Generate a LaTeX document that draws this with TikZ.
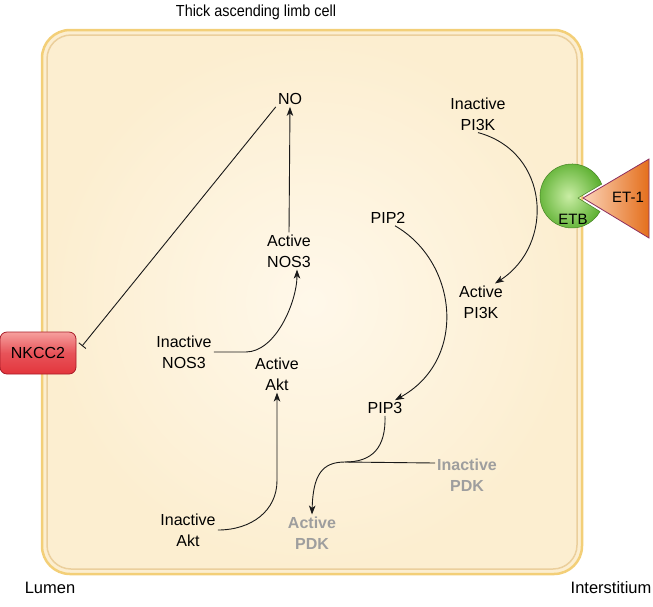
\documentclass[tikz,border=0pt]{standalone}
\usepackage{fontspec}
\setmainfont{Liberation Sans}
\newfontfamily\narrowfont[FakeStretch=0.9]{Liberation Sans}
\usetikzlibrary{arrows, arrows.meta, shapes}

\definecolor{cellfill}{HTML}{FCEED0}
\definecolor{cellcentre}{HTML}{FFF8EA}
\definecolor{cellrim}{HTML}{F3CF78}
\definecolor{cellshade}{HTML}{EBCF9C}
\definecolor{nkccred}{HTML}{E3353C}
\definecolor{nkcclight}{HTML}{F6A09E}
\definecolor{nkccrim}{HTML}{A81C28}
\definecolor{etbgreen}{HTML}{5DB031}
\definecolor{etblight}{HTML}{C9EDA4}
\definecolor{etorange}{HTML}{E46F1C}
\definecolor{etlight}{HTML}{FBD3B8}
\definecolor{etrim}{HTML}{8C2D5E}
\definecolor{pdkgray}{HTML}{9E9E9E}

\begin{document}
\begin{tikzpicture}[-,>={Stealth[length=9pt,width=6.5pt,inset=2.5pt]},x=1pt,y=-1pt,
    lbl/.style={align=center, inner sep=2pt, font=\fontsize{16}{21}\selectfont},
    pdk/.style={lbl, text=pdkgray, font=\fontsize{16}{21}\selectfont\bfseries},
    side/.style={lbl, font=\fontsize{16.5}{19}\selectfont},
    link/.style={line width=0.9pt, draw=black!90}]
        \useasboundingbox (0,0) rectangle (653,606);

        \draw[draw=cellrim, line width=2.5pt, rounded corners=28pt, fill=cellfill] (42,30) rectangle (582,574);
        \shade[inner color=cellcentre, outer color=cellfill, rounded corners=24pt] (47,35) rectangle (577,569);
        \draw[draw=cellshade, line width=1.5pt, rounded corners=24pt] (47,35) rectangle (577,569);

        \node at (256,12) [lbl, font=\narrowfont\fontsize{16}{18}\selectfont] (title) {Thick ascending limb cell};
        \node at (50,588) [side] (lumen) {Lumen};
        \node at (611,588) [side] (inter) {Interstitium};

        \node at (38,353) [rectangle, rounded corners=7pt, draw=nkccrim, line width=0.8pt, top color=nkcclight, bottom color=nkccred, middle color=nkccred!85!white, minimum width=76pt, minimum height=42pt, font=\fontsize{16}{18}\selectfont] (nkcc2) {NKCC2};

        \shade[inner color=etblight, outer color=etbgreen, draw=etbgreen!75!black, line width=0.5pt] (578,198) -- (601.7,184.1) arc[start angle=-21.8, end angle=-331, radius=32] -- cycle;
        \node at (573,219) [lbl, font=\fontsize{15}{17}\selectfont] (etb) {ETB};
        \draw[draw=etrim, line width=0.8pt, left color=etlight, right color=etorange] (583,198) -- (649,159) -- (649,238) -- cycle;
        \node at (628,197) [lbl, font=\fontsize{15}{17}\selectfont] (et1) {ET-1};

        \node at (290,99) [lbl] (no) {NO};
        \node at (478,114) [lbl] (ipi3k) {Inactive\\PI3K};
        \node at (388,218) [lbl] (pip2) {PIP2};
        \node at (289,251) [lbl] (anos3) {Active\\NOS3};
        \node at (481,302) [lbl] (api3k) {Active\\PI3K};
        \node at (184,352) [lbl] (inos3) {Inactive\\NOS3};
        \node at (277,374) [lbl] (aakt) {Active\\Akt};
        \node at (385,408) [lbl] (pip3) {PIP3};
        \node at (467,475) [pdk] (ipdk) {Inactive\\PDK};
        \node at (188,530) [lbl] (iakt) {Inactive\\Akt};
        \node at (312,533) [pdk] (apdk) {Active\\PDK};
        \coordinate (pdkjoin) at (345,462);

        \draw[link, -{Bar[width=9pt]}, shorten >=9pt] (no.south west) -- (nkcc2.east);
        \draw[link, ->] (anos3.north) -- (no.south);
        \draw[link, ->] (inos3.east) -- ++(32,0) .. controls +(30,0) and +(0,32) .. ([xshift=8pt]anos3.south);
        \draw[link, ->] (iakt.east) .. controls +(34,0) and +(0,30) .. ([yshift=-88pt]aakt.south) -- (aakt.south);
        \draw[link, ->] (ipi3k.south) .. controls (550,152) and (555,245) .. ([xshift=14pt]api3k.north);
        \draw[link, ->] ([xshift=7pt]pip2.south) .. controls (458,262) and (468,360) .. ([xshift=10pt]pip3.north);
        \draw[link] (pip3.south) .. controls (386,448) and (372,462) .. (pdkjoin);
        \draw[link, ->] ([yshift=12pt]ipdk.west) -- (pdkjoin) .. controls (322,462) and (313,475) .. (apdk.north);

\end{tikzpicture}
\end{document}
